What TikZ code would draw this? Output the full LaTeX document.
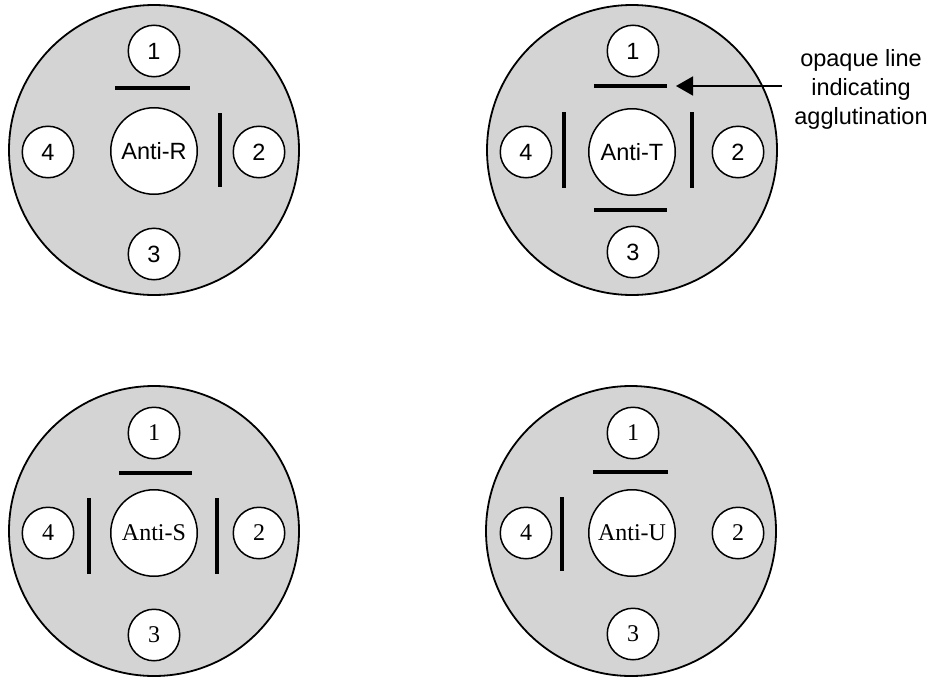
\documentclass[tikz,border=0pt]{standalone}
\usepackage{fontspec}
\setmainfont{Liberation Sans}
\newfontfamily\serfont{Liberation Serif}
\usetikzlibrary{arrows.meta}
\definecolor{platefill}{HTML}{D4D4D4}
\begin{document}
\begin{tikzpicture}[x=1pt,y=-1pt,
  plate/.style={circle,draw,line width=1.8pt,fill=platefill,minimum size=290pt,inner sep=0pt},
  well/.style={circle,draw,line width=1.5pt,fill=white,minimum size=51.5pt,inner sep=0pt,font=\fontsize{23.5}{26}\selectfont},
  centre/.style={circle,draw,line width=1.5pt,fill=white,minimum size=86.5pt,inner sep=0pt,font=\fontsize{23.5}{26}\selectfont},
  bar/.style={line width=4.5pt},
  note/.style={align=center,font=\fontsize{23.5}{29}\selectfont,inner sep=0pt},
  pointer/.style={line width=1.5pt,-{Triangle[length=17pt,width=19pt]}}]
\useasboundingbox (0,0) rectangle (933,677);
% plate 1
\node[plate] (p1) at (154,150) {};
\node[well] (p1w1) at (154,51) {1};
\node[well] (p1w2) at (259,152) {2};
\node[well] (p1w3) at (154,254) {3};
\node[well] (p1w4) at (48,152) {4};
\node[centre] (p1c) at (154,151) {Anti-R};
\draw[bar] (115,88) -- (190,88);
\draw[bar] (220,113) -- (220,187);
% plate 2
\node[plate] (p2) at (632,150) {};
\node[well] (p2w1) at (633,51) {1};
\node[well] (p2w2) at (738,152) {2};
\node[well] (p2w3) at (633,252) {3};
\node[well] (p2w4) at (526,152) {4};
\node[centre] (p2c) at (632,152) {Anti-T};
\draw[bar] (594,86) -- (667,86);
\draw[bar] (594,210) -- (667,210);
\draw[bar] (564,112) -- (564,188);
\draw[bar] (692,112) -- (692,188);
% annotation
\node[note] (note) at (861,89) {opaque line\\indicating\\agglutination};
\coordinate (astart) at (782,86);
\coordinate (atip) at (676,86);
\draw[pointer] (astart) -- (atip);
% bottom plates, serif lettering
\begin{scope}[well/.append style={font=\fontsize{24}{26}\serfont},
              centre/.append style={font=\fontsize{24}{26}\serfont}]
% plate 3
\node[plate] (p3) at (154,531) {};
\node[well] (p3w1) at (154,433) {1};
\node[well] (p3w2) at (259,533) {2};
\node[well] (p3w3) at (154,635) {3};
\node[well] (p3w4) at (48,533) {4};
\node[centre] (p3c) at (154,533) {Anti-S};
\draw[bar] (119,473) -- (192,473);
\draw[bar] (89,498) -- (89,574);
\draw[bar] (217,498) -- (217,574);
% plate 4
\node[plate] (p4) at (631,531) {};
\node[well] (p4w1) at (633,433) {1};
\node[well] (p4w2) at (738,533) {2};
\node[well] (p4w3) at (633,634) {3};
\node[well] (p4w4) at (526,533) {4};
\node[centre] (p4c) at (632,533) {Anti-U};
\draw[bar] (593,472) -- (668,472);
\draw[bar] (562,497) -- (562,571);
\end{scope}
\end{tikzpicture}
\end{document}
